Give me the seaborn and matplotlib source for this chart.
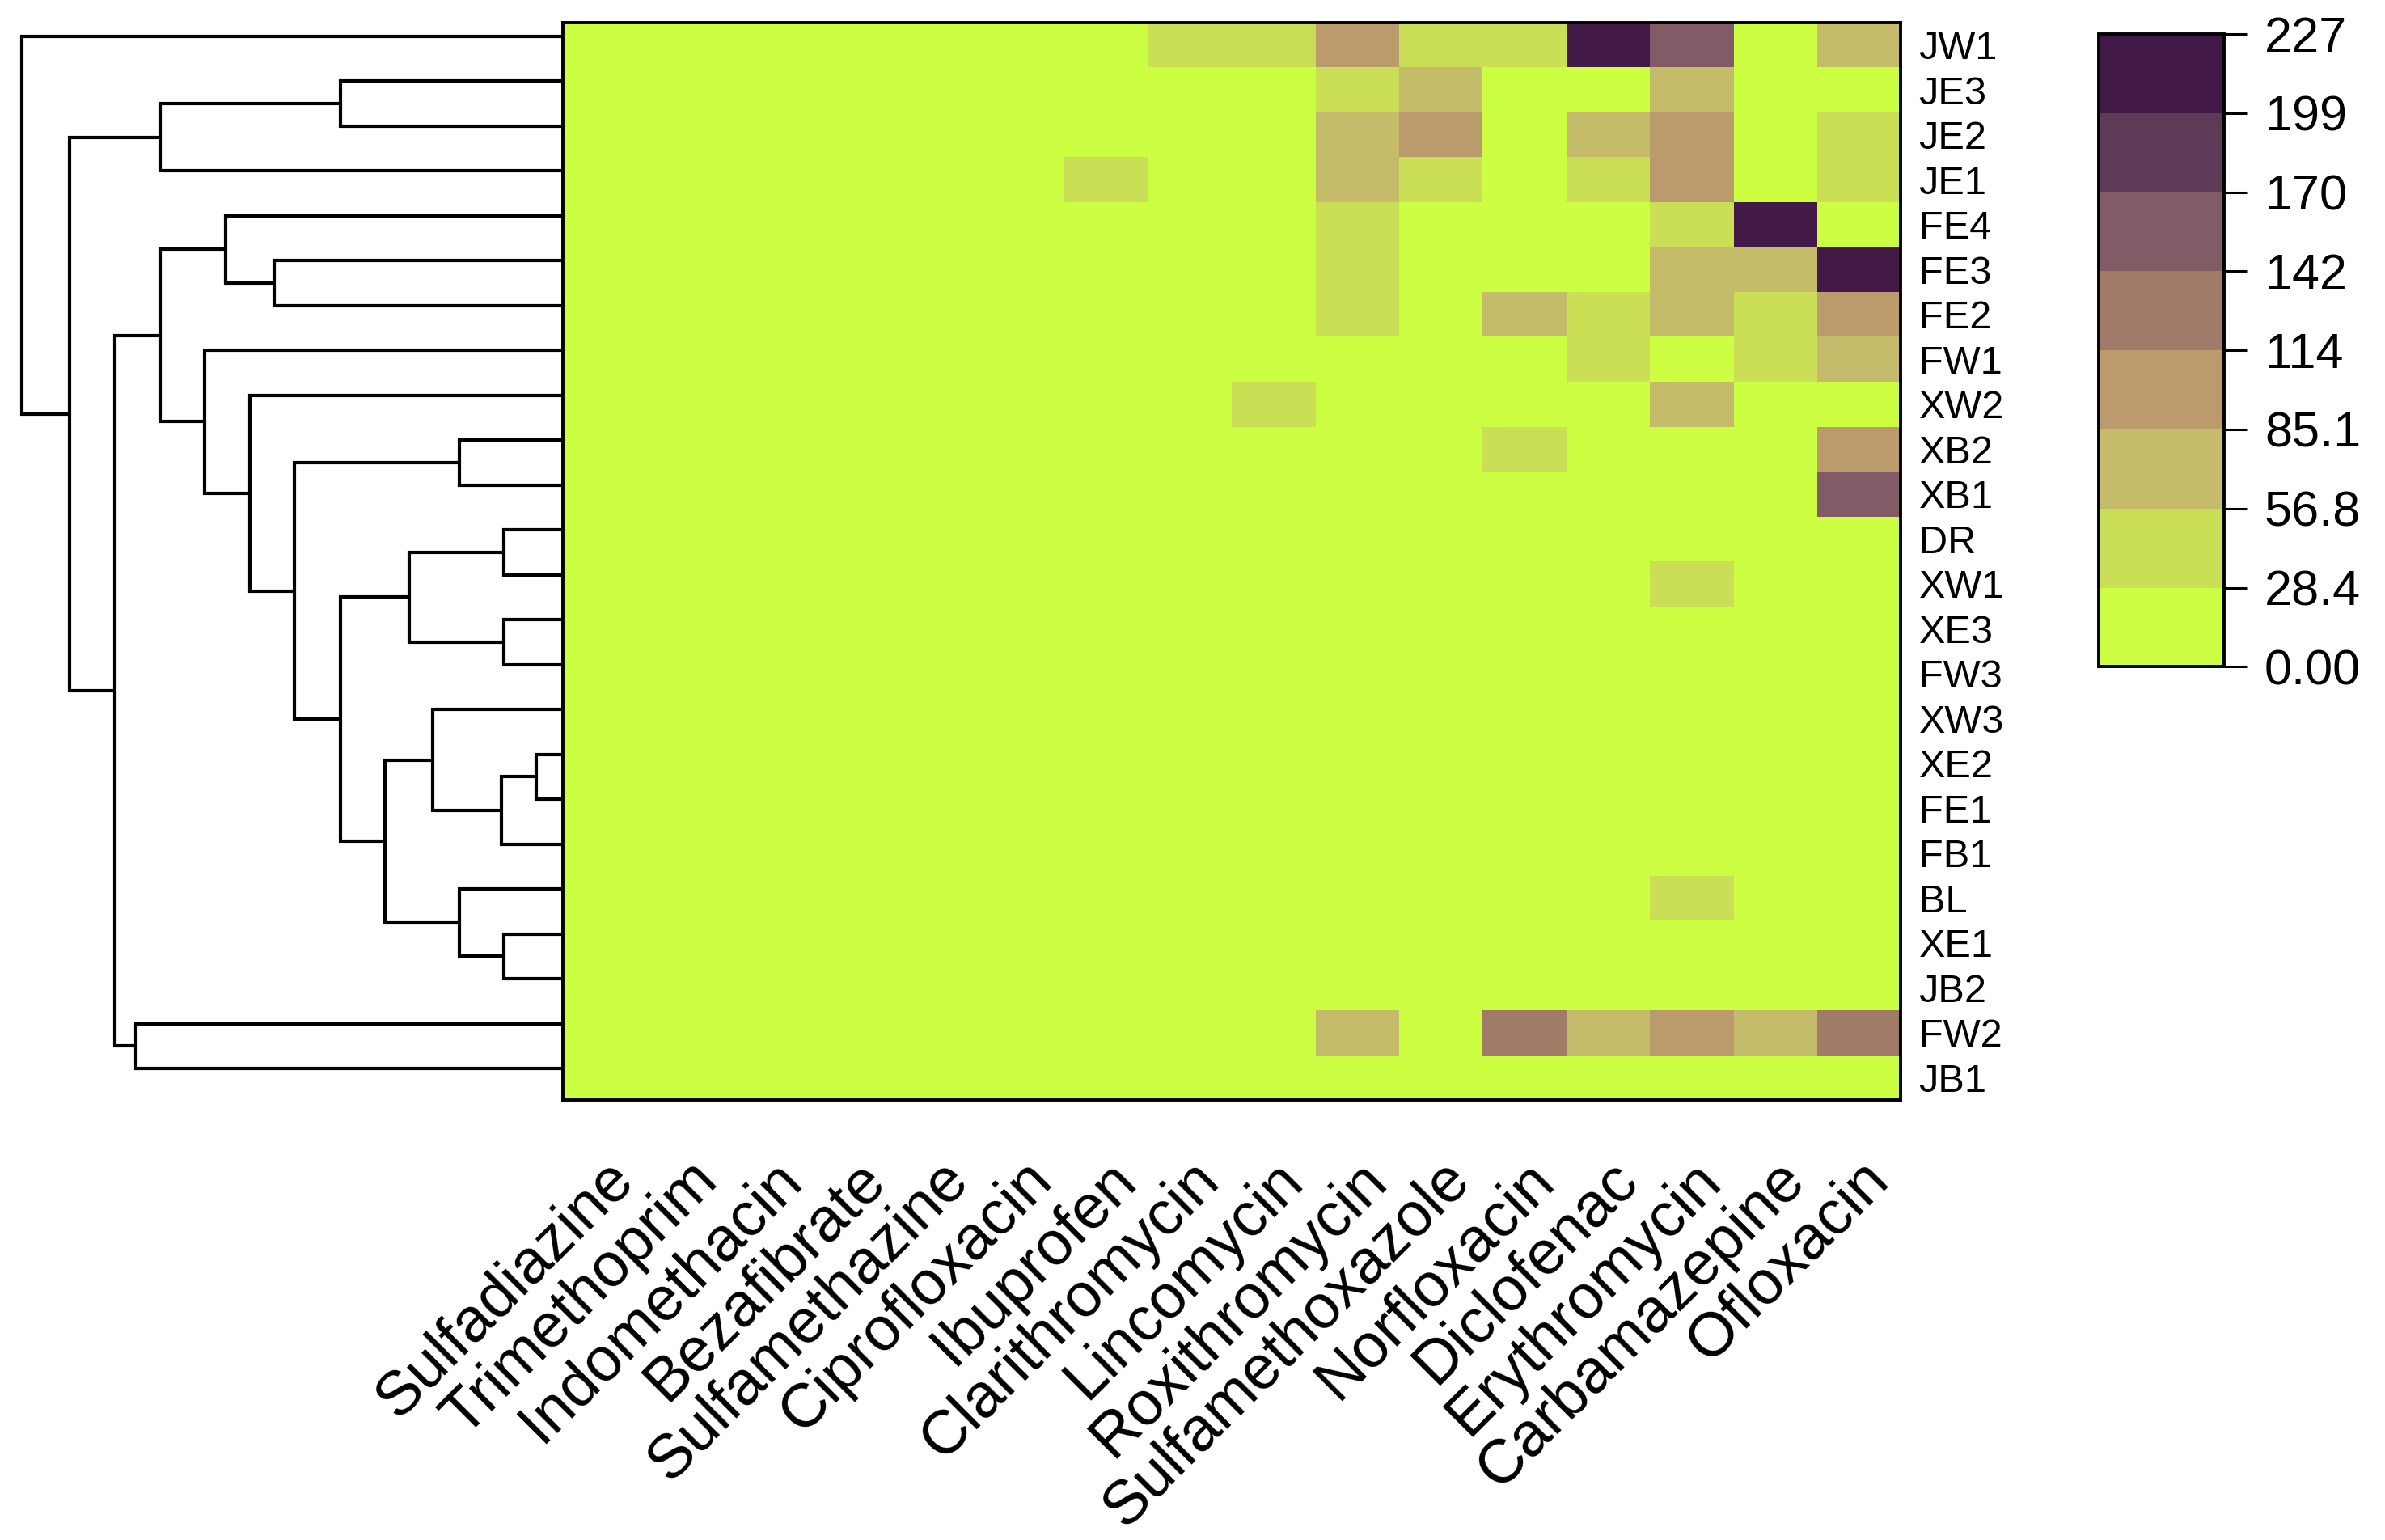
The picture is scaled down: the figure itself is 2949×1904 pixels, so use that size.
import numpy as np
import pandas as pd
import matplotlib
matplotlib.use("Agg")
import matplotlib.pyplot as plt
from matplotlib.colors import ListedColormap
import seaborn as sns

# ---------------- data ----------------
samples = ["JW1", "JE3", "JE2", "JE1", "FE4", "FE3", "FE2", "FW1", "XW2", "XB2",
           "XB1", "DR", "XW1", "XE3", "FW3", "XW3", "XE2", "FE1", "FB1", "BL",
           "XE1", "JB2", "FW2", "JB1"]

compounds = ["Sulfadiazine", "Trimethoprim", "Indomethacin", "Bezafibrate",
             "Sulfamethazine", "Ciprofloxacin", "Ibuprofen", "Clarithromycin",
             "Lincomycin", "Roxithromycin", "Sulfamethoxazole", "Norfloxacin",
             "Diclofenac", "Erythromycin", "Carbamazepine", "Ofloxacin"]

#                JW1  JE3  JE2  JE1  FE4  FE3  FE2  FW1  XW2  XB2  XB1  DR   XW1  XE3  FW3  XW3  XE2  FE1  FB1  BL   XE1  JB2  FW2  JB1
sulfadiazine =  [5.2, 3.1, 4.0, 6.3, 2.2, 1.8, 3.5, 2.9, 1.2, 0.8, 0.6, 0.0, 1.1, 0.5, 0.9, 0.4, 0.3, 0.2, 0.3, 0.7, 0.2, 0.3, 4.1, 0.0]
trimethoprim =  [8.4, 2.6, 5.1, 7.7, 3.0, 2.4, 4.2, 3.3, 1.5, 1.0, 0.9, 0.0, 0.8, 0.6, 0.5, 0.3, 0.4, 0.2, 0.2, 0.6, 0.3, 0.2, 6.5, 0.1]
indomethacin =  [6.1, 4.4, 3.7, 9.2, 1.9, 2.8, 5.0, 2.1, 2.2, 1.3, 0.7, 0.0, 0.9, 0.4, 0.6, 0.5, 0.2, 0.3, 0.1, 0.5, 0.4, 0.3, 7.3, 0.0]
bezafibrate =   [9.8, 3.5, 6.0, 8.1, 2.7, 3.3, 4.8, 3.9, 1.8, 1.6, 1.2, 0.0, 1.0, 0.7, 0.8, 0.4, 0.5, 0.3, 0.3, 0.8, 0.2, 0.4, 8.9, 0.2]
sulfamethazine = [7.5, 2.9, 4.6, 10.4, 2.0, 2.1, 3.6, 2.5, 2.6, 0.9, 0.8, 0.0, 1.3, 0.6, 0.4, 0.3, 0.3, 0.1, 0.2, 0.9, 0.3, 0.2, 5.8, 0.1]
ciprofloxacin = [12.3, 5.2, 7.9, 11.6, 3.8, 4.1, 6.7, 4.4, 3.1, 2.5, 1.9, 0.0, 1.7, 0.9, 1.1, 0.6, 0.7, 0.4, 0.5, 1.2, 0.6, 0.5, 13.2, 0.3]
ibuprofen =     [18.6, 7.3, 12.4, 38.5, 5.5, 6.0, 9.8, 6.9, 4.7, 3.2, 2.8, 0.0, 2.4, 1.5, 1.3, 0.9, 1.0, 0.6, 0.7, 1.8, 0.8, 0.7, 16.1, 0.4]
clarithromycin = [42.1, 9.6, 15.2, 21.3, 8.4, 9.1, 12.7, 10.3, 6.2, 4.8, 3.9, 0.0, 3.1, 2.0, 2.2, 1.4, 1.6, 0.9, 1.1, 2.5, 1.2, 1.0, 19.4, 0.6]
lincomycin =    [35.4, 11.2, 17.8, 19.5, 9.9, 10.6, 14.3, 12.0, 31.2, 6.1, 5.0, 0.0, 4.2, 2.7, 3.0, 1.9, 2.1, 1.3, 1.5, 3.3, 1.6, 1.4, 22.8, 0.8]
roxithromycin = [98.2, 45.1, 68.3, 64.0, 40.2, 47.3, 44.6, 24.8, 13.5, 11.0, 9.2, 0.0, 8.1, 5.3, 5.9, 3.6, 4.0, 2.5, 2.9, 6.4, 3.1, 2.8, 72.4, 1.7]
sulfamethoxazole = [38.0, 66.2, 104.3, 33.1, 18.7, 16.2, 22.9, 17.4, 12.6, 9.7, 8.0, 0.0, 6.9, 4.6, 5.1, 3.0, 3.4, 2.1, 2.4, 5.5, 2.7, 2.3, 26.5, 1.4]
norfloxacin =   [41.3, 20.5, 24.7, 26.8, 14.1, 15.8, 62.4, 19.6, 15.3, 36.2, 12.4, 0.0, 9.8, 6.1, 6.7, 4.2, 4.7, 2.9, 3.3, 7.6, 3.6, 3.2, 128.4, 1.9]
diclofenac =    [221.0, 24.3, 58.1, 44.2, 17.6, 19.9, 49.3, 39.2, 18.8, 14.5, 11.9, 0.0, 10.7, 7.0, 7.8, 4.9, 5.4, 3.3, 3.8, 8.7, 4.1, 3.6, 76.3, 2.2]
erythromycin =  [152.4, 70.1, 95.2, 92.3, 35.4, 61.2, 65.0, 25.7, 59.3, 20.1, 16.4, 0.0, 32.5, 9.6, 10.8, 6.7, 7.5, 4.6, 5.3, 30.4, 5.8, 5.1, 101.2, 3.0]
carbamazepine = [22.5, 13.9, 19.1, 23.4, 214.0, 73.2, 46.1, 52.3, 16.4, 12.8, 10.5, 0.0, 9.1, 5.8, 6.5, 4.1, 4.5, 2.8, 3.2, 7.3, 3.5, 3.1, 79.2, 1.8]
ofloxacin =     [67.4, 19.8, 37.2, 42.1, 25.3, 227.0, 109.4, 63.5, 21.7, 97.3, 158.2, 0.0, 12.6, 8.3, 9.2, 5.7, 6.4, 3.9, 4.5, 10.1, 4.9, 4.3, 131.5, 2.6]

value_max = 227
bin_colors = ["#CCFF42", "#CADF56", "#C4BB6B", "#BB9A6B",
              "#A07B68", "#815B66", "#5D3A55", "#431A47"]
cbar_labels = ["0.00", "28.4", "56.8", "85.1", "114", "142", "170", "199", "227"]

# hierarchical clustering of samples: (node, child_a, child_b, height)
merges = [
    ("U", "XE2", "FE1", 5.0),
    ("P", "DR", "XW1", 10.9),
    ("Q", "XE3", "FW3", 10.9),
    ("V", "XE1", "JB2", 10.9),
    ("T", "U", "FB1", 11.3),
    ("L", "XB2", "XB1", 19.1),
    ("S", "BL", "V", 19.1),
    ("R", "XW3", "T", 24.1),
    ("N", "P", "Q", 28.4),
    ("O", "R", "S", 32.9),
    ("D", "JE3", "JE2", 41.2),
    ("M", "N", "O", 41.2),
    ("K", "L", "M", 49.6),
    ("I", "FE3", "FE2", 53.4),
    ("J", "XW2", "K", 57.9),
    ("G", "FE4", "I", 62.4),
    ("H", "FW1", "J", 66.2),
    ("B", "D", "JE1", 74.5),
    ("E", "G", "H", 74.5),
    ("F", "FW2", "JB1", 78.9),
    ("C", "E", "F", 82.9),
    ("A", "B", "C", 91.2),
    ("ROOT", "JW1", "A", 100.0),
]

# ---------------- figure ----------------
sns.set_theme(style="white")
plt.rcParams["font.family"] = ["Liberation Sans", "DejaVu Sans"]
plt.rcParams["text.color"] = "black"
plt.rcParams["xtick.color"] = "black"
plt.rcParams["ytick.color"] = "black"
plt.rcParams["xtick.labelcolor"] = "black"
plt.rcParams["ytick.labelcolor"] = "black"

df = pd.DataFrame({
    "Sulfadiazine": sulfadiazine, "Trimethoprim": trimethoprim,
    "Indomethacin": indomethacin, "Bezafibrate": bezafibrate,
    "Sulfamethazine": sulfamethazine, "Ciprofloxacin": ciprofloxacin,
    "Ibuprofen": ibuprofen, "Clarithromycin": clarithromycin,
    "Lincomycin": lincomycin, "Roxithromycin": roxithromycin,
    "Sulfamethoxazole": sulfamethoxazole, "Norfloxacin": norfloxacin,
    "Diclofenac": diclofenac, "Erythromycin": erythromycin,
    "Carbamazepine": carbamazepine, "Ofloxacin": ofloxacin,
}, index=samples)[compounds]

fig = plt.figure(figsize=(29.49, 19.04), dpi=100)
ax = fig.add_axes([0.236, 0.2857, 0.561, 0.6996])
cax = fig.add_axes([0.880, 0.567, 0.0525, 0.411])
dax = fig.add_axes([0.0093, 0.2857, 0.2267, 0.6996])

cmap = ListedColormap(bin_colors)
sns.heatmap(df, ax=ax, cmap=cmap, vmin=0, vmax=value_max, cbar_ax=cax,
            xticklabels=compounds, yticklabels=samples, linewidths=0)

for s in ax.spines.values():
    s.set_visible(True)
    s.set_linewidth(2.8)
    s.set_color("black")

ax.set_xlabel("")
ax.set_ylabel("")
ax.yaxis.tick_right()
ax.set_yticklabels(samples, rotation=0, fontsize=35, color="black")
ax.tick_params(axis="y", length=0, pad=16)
ax.set_xticklabels(compounds, rotation=45, ha="right", rotation_mode="anchor",
                   fontsize=55, color="black")
ax.tick_params(axis="x", length=0, pad=45)

cbar = ax.collections[0].colorbar
cbar.set_ticks(np.linspace(0, value_max, len(cbar_labels)))
cbar.set_ticklabels(cbar_labels)
cbar.ax.tick_params(length=20, width=2.2, labelsize=44, pad=16,
                    color="black", labelcolor="black")
cbar.outline.set_linewidth(2.8)
cbar.outline.set_edgecolor("black")

# dendrogram
pos = {name: i + 0.5 - 0.2 for i, name in enumerate(samples)}
hgt = {name: 0.0 for name in samples}
for node, a, b, h in merges:
    ya, yb = pos[a], pos[b]
    dax.plot([hgt[a], h, h, hgt[b]], [ya, ya, yb, yb], color="black",
             lw=3.0, solid_joinstyle="miter", solid_capstyle="butt",
             clip_on=False)
    pos[node] = (ya + yb) / 2
    hgt[node] = h
dax.set_xlim(100, 0)
dax.set_ylim(len(samples), 0)
dax.axis("off")

fig.savefig("out.png", dpi=100, facecolor="white")
